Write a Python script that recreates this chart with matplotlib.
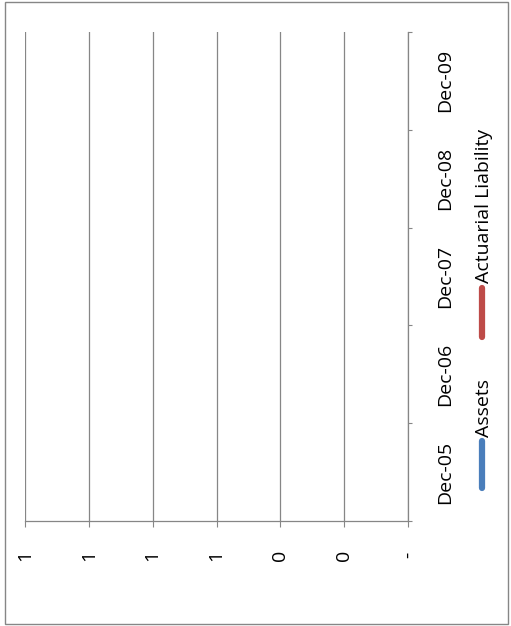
import numpy as np
import matplotlib.pyplot as plt
from matplotlib.lines import Line2D
from matplotlib.patches import Rectangle

# chart is printed turned on its side: value axis runs right-to-left along the bottom
dates = ["Dec-05", "Dec-06", "Dec-07", "Dec-08", "Dec-09"]
assets = [np.nan, np.nan, np.nan, np.nan, np.nan]
actuarial_liability = [np.nan, np.nan, np.nan, np.nan, np.nan]
value_ticks = [0.0, 0.2, 0.4, 0.6, 0.8, 1.0, 1.2]
value_labels = ["-", "0", "0", "1", "1", "1", "1"]
series_names = ["Assets", "Actuarial Liability"]
series_colors = ["#4a7ebb", "#be4b48"]

plt.rcParams["font.family"] = ["Open Sans", "DejaVu Sans"]
W, H = 511, 626
grey = "#868686"
fs = 14

fig = plt.figure(figsize=(W / 100, H / 100), dpi=100)
fig.patch.set_facecolor("white")


def fx(px):
    return px / W


def fy(py):
    return 1 - py / H


ax = fig.add_axes([fx(25), fy(521), fx(408 - 25), (521 - 32) / H])

pos = np.arange(len(dates))
ax.plot(assets, pos, color=series_colors[0], lw=2.5)
ax.plot(actuarial_liability, pos, color=series_colors[1], lw=2.5)

ax.set_xlim(value_ticks[-1], value_ticks[0])
ax.set_ylim(-0.5, len(dates) - 0.5)

ax.set_xticks(value_ticks)
ax.set_xticklabels(value_labels, rotation=90, fontsize=fs, va="center")
ax.tick_params(axis="x", direction="out", length=4.5, width=0.8, color=grey, pad=20)
ax.grid(axis="x", color=grey, lw=0.9)
ax.set_axisbelow(True)

# category axis: tick marks between categories, labels at centres
ax.yaxis.tick_right()
ax.set_yticks(np.arange(-0.5, len(dates), 1.0))
ax.set_yticklabels([])
ax.set_yticks(pos, minor=True)
ax.set_yticklabels(dates, minor=True, rotation=90, fontsize=fs, va="center", ha="left")
ax.tick_params(axis="y", which="major", direction="out", length=3, width=0.8, color=grey)
ax.tick_params(axis="y", which="minor", length=0, pad=20)

for s in ["left", "top"]:
    ax.spines[s].set_visible(False)
for s in ["right", "bottom"]:
    ax.spines[s].set_color(grey)
    ax.spines[s].set_linewidth(0.9)

# legend, drawn by hand since it is rotated too
leg = [(488, 441, 437), (337, 288, 283)]
for name, color, (y0, y1, yt) in zip(series_names, series_colors, leg):
    fig.add_artist(Line2D([fx(482), fx(482)], [fy(y0), fy(y1)], color=color,
                          lw=4.5, solid_capstyle="round"))
    fig.text(fx(484), fy(yt), name, rotation=90, ha="center", va="bottom", fontsize=fs)

fig.add_artist(Rectangle((fx(5), fy(624)), fx(503), (622) / H, transform=fig.transFigure,
                         fill=False, edgecolor=grey, lw=1))

fig.savefig("out.png", dpi=100)
